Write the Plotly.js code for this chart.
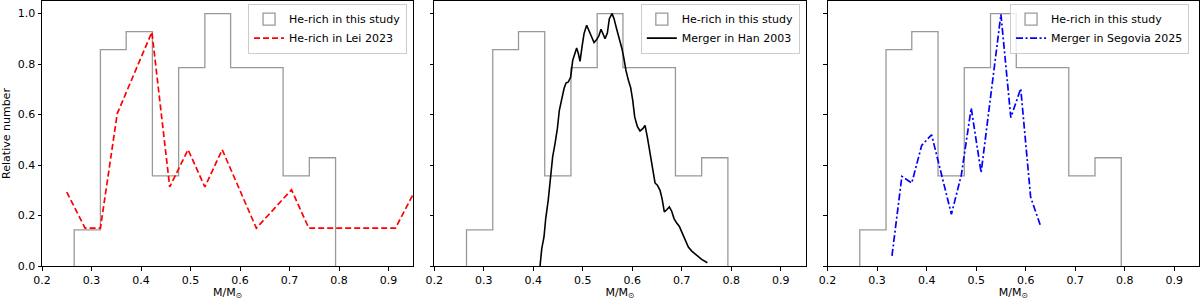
<!DOCTYPE html>
<html>
<head>
<meta charset="utf-8">
<script src="https://cdn.plot.ly/plotly-3.0.1.min.js"></script>
<style>html,body{margin:0;padding:0;background:#fff;}#chart{width:1200px;height:300px;}</style>
</head>
<body>
<div id="chart"></div>
<script>
// Histogram of He-rich stars in this study (relative number)
const binEdges = [0.265, 0.318, 0.370, 0.423, 0.476, 0.529, 0.581, 0.634, 0.687, 0.740, 0.793];
const relCounts = [0.143, 0.857, 0.929, 0.357, 0.786, 1.0, 0.786, 0.786, 0.357, 0.429];

// He-rich in Lei 2023
const leiMass = [0.250, 0.287, 0.318, 0.352, 0.422, 0.458, 0.495, 0.529, 0.564, 0.633, 0.704, 0.739, 0.914, 0.952];
const leiRel  = [0.293, 0.150, 0.150, 0.604, 0.927, 0.313, 0.461, 0.313, 0.461, 0.150, 0.302, 0.150, 0.150, 0.293];

// Merger in Han 2003
const hanMass = [0.4135, 0.417, 0.4215, 0.425, 0.430, 0.435, 0.439, 0.4438, 0.4485, 0.4525, 0.457, 0.462, 0.466, 0.4707, 0.4754, 0.4795, 0.4828, 0.4875, 0.491, 0.4943, 0.4983, 0.5024, 0.5077, 0.513, 0.518, 0.5226, 0.528, 0.5327, 0.5367, 0.5414, 0.5448, 0.5495, 0.5535, 0.559, 0.563, 0.568, 0.5737, 0.579, 0.583, 0.587, 0.592, 0.5966, 0.6007, 0.6047, 0.610, 0.6155, 0.621, 0.6256, 0.6303, 0.6357, 0.641, 0.6458, 0.6505, 0.6559, 0.660, 0.6646, 0.6694, 0.6747, 0.6795, 0.6842, 0.6896, 0.695, 0.6997, 0.7064, 0.7131, 0.720, 0.730, 0.740, 0.7515];
const hanRel  = [0.0, 0.069, 0.115, 0.188, 0.26, 0.353, 0.432, 0.485, 0.544, 0.617, 0.663, 0.703, 0.725, 0.729, 0.749, 0.815, 0.835, 0.864, 0.841, 0.811, 0.868, 0.921, 0.954, 0.927, 0.907, 0.885, 0.897, 0.914, 0.938, 0.914, 0.901, 0.923, 0.980, 1.0, 0.98, 0.941, 0.901, 0.861, 0.822, 0.775, 0.736, 0.707, 0.657, 0.591, 0.553, 0.535, 0.544, 0.557, 0.511, 0.445, 0.386, 0.329, 0.320, 0.300, 0.267, 0.214, 0.223, 0.234, 0.217, 0.188, 0.170, 0.157, 0.135, 0.104, 0.075, 0.059, 0.042, 0.026, 0.013];

// Merger in Segovia 2025
const segMass = [0.33, 0.35, 0.37, 0.39, 0.41, 0.43, 0.45, 0.47, 0.49, 0.51, 0.53, 0.55, 0.57, 0.59, 0.61, 0.63];
const segRel  = [0.040, 0.355, 0.329, 0.478, 0.520, 0.360, 0.205, 0.360, 0.626, 0.370, 0.685, 0.997, 0.588, 0.703, 0.273, 0.159];

const xTicks = [0.2, 0.3, 0.4, 0.5, 0.6, 0.7, 0.8, 0.9];
const yTicks = [0.0, 0.2, 0.4, 0.6, 0.8, 1.0];
const histLabel = 'He-rich in this study';
const modelLabels = ['He-rich in Lei 2023', 'Merger in Han 2003', 'Merger in Segovia 2025'];
const xTitle = 'M/M<sub>⊙</sub>';
const yTitle = 'Relative number';

const histX = [binEdges[0]].concat(binEdges);
const histY = [0].concat(relCounts, [0]);
const histColor = '#999999';

const traces = [];
const legendIds = ['legend', 'legend2', 'legend3'];
const models = [
  {x: leiMass, y: leiRel, color: '#ff0000', dash: '6px,3px', width: 1.7},
  {x: hanMass, y: hanRel, color: '#000000', dash: 'solid', width: 1.6},
  {x: segMass, y: segRel, color: '#0000ff', dash: '7px,2.5px,2px,2.5px', width: 1.7}
];
for (let i = 0; i < 3; i++) {
  const ax = i === 0 ? '' : String(i + 1);
  // histogram step outline
  traces.push({
    type: 'scatter', mode: 'lines', x: histX, y: histY,
    xaxis: 'x' + ax, yaxis: 'y' + ax,
    line: {color: histColor, width: 1.3, shape: 'hv'},
    showlegend: false, hoverinfo: 'skip'
  });
  // legend proxy for the histogram (patch)
  traces.push({
    type: 'bar', x: [null], y: [null], name: histLabel,
    xaxis: 'x' + ax, yaxis: 'y' + ax,
    marker: {color: 'rgba(0,0,0,0)', line: {color: histColor, width: 1.3}},
    legend: legendIds[i], showlegend: true
  });
  traces.push({
    type: 'scatter', mode: 'lines', x: models[i].x, y: models[i].y, name: modelLabels[i],
    xaxis: 'x' + ax, yaxis: 'y' + ax,
    line: {color: models[i].color, width: models[i].width, dash: models[i].dash},
    legend: legendIds[i]
  });
}

const font = {family: 'DejaVu Sans, sans-serif', size: 11, color: '#000'};
function xa(domain) {
  return {
    domain: domain, range: [0.2, 0.95], tickvals: xTicks, tickformat: '.1f',
    ticks: 'outside', ticklen: 3.5, tickwidth: 1, tickcolor: '#000',
    showline: true, linecolor: '#000', linewidth: 1, mirror: true,
    showgrid: false, zeroline: false, tickfont: font,
    title: {text: xTitle, font: font, standoff: 3}
  };
}
function ya(show) {
  const a = {
    range: [0, 1.05], tickvals: yTicks, tickformat: '.1f',
    ticks: 'outside', ticklen: 3.5, tickwidth: 1, tickcolor: '#000',
    showline: true, linecolor: '#000', linewidth: 1, mirror: true,
    showgrid: false, zeroline: false, tickfont: font, showticklabels: show
  };
  if (show) a.title = {text: yTitle, font: font, standoff: 6};
  return a;
}
function lg(xr) {
  return {
    x: xr, xanchor: 'right', y: 0.99, yanchor: 'top',
    bgcolor: 'rgba(255,255,255,0.8)', bordercolor: '#cccccc', borderwidth: 1,
    font: font, tracegroupgap: 0, itemwidth: 30
  };
}
const layout = {
  width: 1200, height: 300,
  margin: {l: 42, r: 1, t: 1, b: 34},
  paper_bgcolor: '#fff', plot_bgcolor: '#fff',
  font: font,
  barmode: 'overlay',
  xaxis: xa([0, 0.3209]),
  xaxis2: xa([0.3391, 0.660]),
  xaxis3: xa([0.679, 1.0]),
  yaxis: Object.assign(ya(true), {anchor: 'x'}),
  yaxis2: Object.assign(ya(false), {anchor: 'x2'}),
  yaxis3: Object.assign(ya(false), {anchor: 'x3'}),
  legend: lg(0.3155),
  legend2: lg(0.655),
  legend3: lg(0.9914)
};
layout.xaxis.anchor = 'y';
layout.xaxis2.anchor = 'y2';
layout.xaxis3.anchor = 'y3';

Plotly.newPlot('chart', traces, layout, {displayModeBar: false, staticPlot: true});
</script>
</body>
</html>
